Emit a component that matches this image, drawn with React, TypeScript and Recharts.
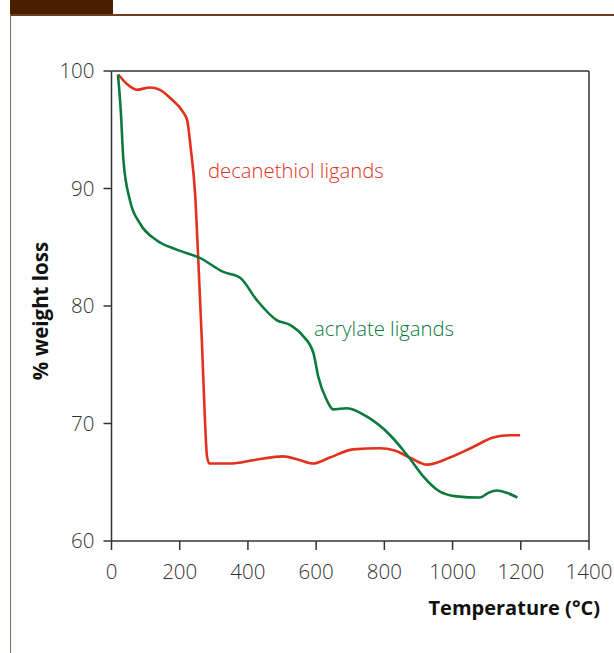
import { LineChart, Line, XAxis, YAxis, ReferenceLine } from 'recharts';

const xTicks = [0, 200, 400, 600, 800, 1000, 1200, 1400];
const yTicks = [60, 70, 80, 90, 100];

// decanethiol ligands (red)
const decanethiolT = [20, 45, 74, 113, 142, 172, 210, 222, 232, 245, 254, 265, 274, 280, 287, 347, 420, 503, 550, 591, 640, 708, 787, 830, 875, 925, 992, 1060, 1119, 1168, 1198];
const decanethiolW = [99.7, 98.9, 98.4, 98.6, 98.4, 97.7, 96.5, 95.8, 93.5, 89.6, 84.2, 77.0, 70.3, 67.2, 66.6, 66.6, 66.9, 67.2, 66.9, 66.6, 67.1, 67.8, 67.9, 67.7, 67.1, 66.5, 67.1, 68.0, 68.8, 69.0, 69.0];

// acrylate ligands (green)
const acrylateT = [19, 27, 35, 54, 84, 132, 191, 259, 328, 377, 426, 484, 523, 560, 592, 606, 631, 650, 690, 748, 817, 856, 875, 914, 963, 1012, 1080, 1105, 1129, 1159, 1190];
const acrylateW = [99.7, 96.7, 92.4, 89.0, 87.0, 85.6, 84.8, 84.1, 82.9, 82.4, 80.5, 78.8, 78.4, 77.5, 76.0, 74.0, 72.0, 71.2, 71.3, 70.6, 69.0, 67.7, 67.0, 65.5, 64.2, 63.8, 63.7, 64.1, 64.3, 64.1, 63.7];

const decanethiol = decanethiolT.map((t, i) => ({ t, w: decanethiolW[i] }));
const acrylate = acrylateT.map((t, i) => ({ t, w: acrylateW[i] }));

const RED = '#e2311d';
const GREEN = '#0b7a3c';
const AXIS = '#333333';
const FONT = '"Open Sans", "Noto Sans", sans-serif';

const tickStyle = { fontSize: 20.5, fill: '#333', fontFamily: FONT, fontWeight: 300 };

export default function App() {
    return (
        <div style={{ position: 'absolute', left: 0, top: 0, width: 614, height: 653, background: '#fff', fontFamily: FONT }}>
            {/* frame */}
            <div style={{ position: 'absolute', left: 10, top: 0, width: 103, height: 14, background: '#4a1f00' }} />
            <div style={{ position: 'absolute', left: 10, top: 14, width: 604, height: 1.5, background: '#6e3d1e' }} />
            <div style={{ position: 'absolute', left: 9.5, top: 14, width: 1.8, height: 639, background: '#8c6a50' }} />

            <div style={{ position: 'absolute', left: 0, top: 0 }}>
                <LineChart width={614} height={653} data={decanethiol} margin={{ top: 71, right: 25, bottom: 82, left: 41.5 }}>
                    <XAxis
                        dataKey="t"
                        type="number"
                        domain={[0, 1400]}
                        ticks={xTicks}
                        height={30}
                        tickSize={9}
                        tickMargin={14}
                        stroke={AXIS}
                        strokeWidth={1.5}
                        tick={tickStyle}
                        interval={0}
                        allowDataOverflow
                    />
                    <YAxis
                        dataKey="w"
                        type="number"
                        domain={[60, 100]}
                        ticks={yTicks}
                        width={70}
                        tickSize={8}
                        tickMargin={9}
                        stroke={AXIS}
                        strokeWidth={1.5}
                        tick={tickStyle}
                        interval={0}
                        allowDataOverflow
                    />
                    <ReferenceLine y={100} stroke={AXIS} strokeWidth={1.5} />
                    <ReferenceLine x={1400} stroke={AXIS} strokeWidth={1.5} />
                    <Line data={decanethiol} dataKey="w" type="monotone" stroke={RED} strokeWidth={2.6} dot={false} isAnimationActive={false} />
                    <Line data={acrylate} dataKey="w" type="monotone" stroke={GREEN} strokeWidth={2.6} dot={false} isAnimationActive={false} />
                </LineChart>
            </div>

            {/* series labels */}
            <div style={{ position: 'absolute', left: 208, top: 156, fontSize: 20.3, fontWeight: 300, color: RED, whiteSpace: 'nowrap' }}>decanethiol ligands</div>
            <div style={{ position: 'absolute', left: 314, top: 314, fontSize: 20.3, fontWeight: 300, color: GREEN, whiteSpace: 'nowrap' }}>acrylate ligands</div>

            {/* axis titles */}
            <div style={{ position: 'absolute', left: 40, top: 311, transform: 'translate(-50%, -50%) rotate(-90deg)', fontSize: 20.5, fontWeight: 700, color: '#111', whiteSpace: 'nowrap' }}>% weight loss</div>
            <div style={{ position: 'absolute', right: 14, top: 594, fontSize: 20, fontWeight: 700, color: '#111', whiteSpace: 'nowrap' }}>Temperature (°C)</div>
        </div>
    );
}
